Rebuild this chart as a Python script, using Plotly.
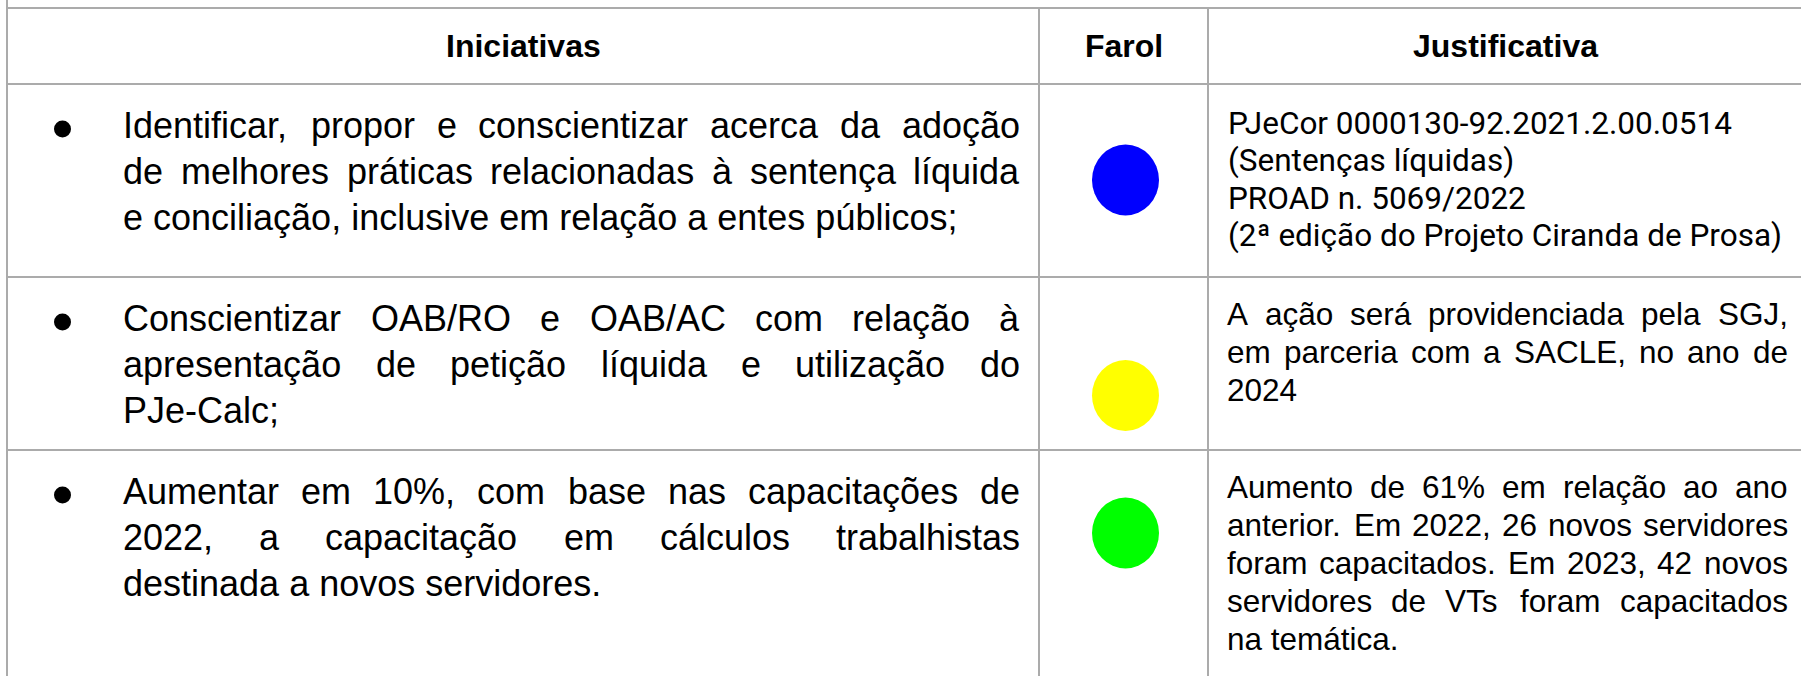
import plotly.graph_objects as go

# ---------------- data ----------------
cabecalhos = ["Iniciativas", "Farol", "Justificativa"]

iniciativas = [
    ["Identificar, propor e conscientizar acerca da adoção",
     "de melhores práticas relacionadas à sentença líquida",
     "e conciliação, inclusive em relação a entes públicos;"],
    ["Conscientizar OAB/RO e OAB/AC com relação à",
     "apresentação de petição líquida e utilização do",
     "PJe-Calc;"],
    ["Aumentar em 10%, com base nas capacitações de",
     "2022, a capacitação em cálculos trabalhistas",
     "destinada a novos servidores."],
]

farol = ["#0000ff", "#ffff00", "#00ff00"]

justificativas = [
    ["PJeCor 0000130-92.2021.2.00.0514",
     "(Sentenças líquidas)",
     "PROAD n. 5069/2022",
     "(2ª edição do Projeto Ciranda de Prosa)"],
    ["A ação será providenciada pela SGJ,",
     "em parceria com a SACLE, no ano de",
     "2024"],
    ["Aumento de 61% em relação ao ano",
     "anterior. Em 2022, 26 novos servidores",
     "foram capacitados. Em 2023, 42 novos",
     "servidores de VTs foram capacitados",
     "na temática."],
]
# row 0 of justificativa is a list of short separate paragraphs (left aligned)
justif_justificada = [False, True, True]

# ---------------- layout config ----------------
W, H = 1801, 676
col_edges = [7, 1039, 1208, W]
header_top, header_bottom = 8, 84
row_tops = [84, 277, 450]
line_color = "#ababab"

ARIAL_FONT = "Liberation Sans, Arial, sans-serif"
ROBOTO_FONT = "Roboto, sans-serif"

hdr_size = 32
ini_size = 36
ini_left, ini_right = 123, 1020
ini_first = 54          # first baseline offset from row top
ini_step = 46

jus_size = 31.5
jus_left, jus_right = 1227, 1788
jus_first = 48
jus_step = 38
rob_size = 31.5
rob_first = 50
rob_step = 37.5

farol_cx = 1125.5
farol_offsets = [96, 118.5, 83]     # ellipse centre below row top
farol_rx, farol_ry = 33.5, 35.5

bullet_x, bullet_r = 62.5, 8.5

# Arial / Liberation Sans advance widths (per 1000 em)
AW = {' ': 278, '%': 889, '(': 333, ')': 333, ',': 278, '-': 333, '.': 278,
      '/': 278, ';': 278, ':': 278, 'ª': 370}
for d in "0123456789":
    AW[d] = 556
AW.update({'A': 667, 'B': 667, 'C': 722, 'D': 722, 'E': 667, 'F': 611, 'G': 778,
           'H': 722, 'I': 278, 'J': 500, 'K': 667, 'L': 556, 'M': 833, 'N': 722,
           'O': 778, 'P': 667, 'Q': 778, 'R': 722, 'S': 667, 'T': 611, 'U': 722,
           'V': 667, 'W': 944, 'X': 667, 'Y': 667, 'Z': 611})
AW.update({'a': 556, 'b': 556, 'c': 500, 'd': 556, 'e': 556, 'f': 278, 'g': 556,
           'h': 556, 'i': 222, 'j': 222, 'k': 500, 'l': 222, 'm': 833, 'n': 556,
           'o': 556, 'p': 556, 'q': 556, 'r': 333, 's': 500, 't': 278, 'u': 556,
           'v': 500, 'w': 722, 'x': 500, 'y': 500, 'z': 500,
           'à': 556, 'á': 556, 'ã': 556, 'â': 556, 'ç': 500, 'é': 556, 'ê': 556,
           'í': 278, 'ó': 556, 'õ': 556, 'ô': 556, 'ú': 556})


def tw(s, size):
    return sum(AW.get(ch, 556) for ch in s) / 1000.0 * size


BASE_K = 0.345  # baseline offset relative to text box centre (in em)

annotations = []
shapes = []


def add_text(x, baseline, text, size, family, anchor="left"):
    annotations.append(dict(
        x=x, y=baseline - BASE_K * size, xref="x", yref="y",
        text=text, showarrow=False, xanchor=anchor, yanchor="middle",
        borderpad=0, borderwidth=0,
        font=dict(size=size, family=family, color="black")))


def add_line(text, left, right, baseline, size, family, justify):
    words = text.split(" ")
    if not justify or len(words) < 2:
        add_text(left, baseline, text, size, family)
        return
    widths = [tw(w, size) for w in words]
    gap = (right - left - sum(widths)) / (len(words) - 1)
    x = left
    for i, (w, wd) in enumerate(zip(words, widths)):
        if i == len(words) - 1:
            add_text(right, baseline, w, size, family, anchor="right")
        else:
            add_text(x, baseline, w, size, family)
        x += wd + gap


def hline(y, x0, x1):
    shapes.append(dict(type="line", xref="x", yref="y", x0=x0, x1=x1, y0=y, y1=y,
                       line=dict(color=line_color, width=2)))


def vline(x, y0, y1):
    shapes.append(dict(type="line", xref="x", yref="y", x0=x, x1=x, y0=y0, y1=y1,
                       line=dict(color=line_color, width=2)))


# grid
for y in [header_top, header_bottom] + row_tops[1:]:
    hline(y, col_edges[0], W)
vline(col_edges[0], 0, H)
vline(col_edges[1], header_top, H)
vline(col_edges[2], header_top, H)

# headers
hdr_mid = (header_top + header_bottom) / 2
hdr_centres = [(col_edges[0] + col_edges[1]) / 2, (col_edges[1] + col_edges[2]) / 2, 1505]
for c, t in zip(hdr_centres, cabecalhos):
    annotations.append(dict(x=c, y=hdr_mid, xref="x", yref="y", text="<b>" + t + "</b>",
                            showarrow=False, xanchor="center", yanchor="middle",
                            borderpad=0, borderwidth=0,
                            font=dict(size=hdr_size, family=ARIAL_FONT, color="black")))

bullet_ys = []
for r, top in enumerate(row_tops):
    # iniciativas (justified, last line left aligned)
    lines = iniciativas[r]
    for i, ln in enumerate(lines):
        bl = top + ini_first + i * ini_step
        add_line(ln, ini_left, ini_right, bl, ini_size, ARIAL_FONT, i < len(lines) - 1)
    bullet_ys.append(top + ini_first - 9)
    # farol
    cy = top + farol_offsets[r]
    shapes.append(dict(type="circle", xref="x", yref="y",
                       x0=farol_cx - farol_rx, x1=farol_cx + farol_rx,
                       y0=cy - farol_ry, y1=cy + farol_ry,
                       fillcolor=farol[r], line=dict(width=0)))
    # justificativa
    jl = justificativas[r]
    for i, ln in enumerate(jl):
        if not justif_justificada[r]:
            add_text(jus_left + 1, top + rob_first + i * rob_step, ln, rob_size, ROBOTO_FONT)
        else:
            add_line(ln, jus_left, jus_right, top + jus_first + i * jus_step,
                     jus_size, ARIAL_FONT, i < len(jl) - 1)

fig = go.Figure()
fig.add_trace(go.Scatter(x=[bullet_x] * len(bullet_ys), y=bullet_ys, mode="markers",
                         marker=dict(size=2 * bullet_r, color="black", line=dict(width=0)),
                         hoverinfo="skip", showlegend=False))
fig.update_layout(
    width=W, height=H, margin=dict(l=0, r=0, t=0, b=0),
    paper_bgcolor="white", plot_bgcolor="white",
    xaxis=dict(range=[0, W], visible=False, fixedrange=True),
    yaxis=dict(range=[H, 0], visible=False, fixedrange=True),
    shapes=shapes, annotations=annotations, showlegend=False,
)
fig.write_html("out.html", config={"displayModeBar": False},
               post_script="document.body.style.margin='0';document.body.style.overflow='hidden';")
